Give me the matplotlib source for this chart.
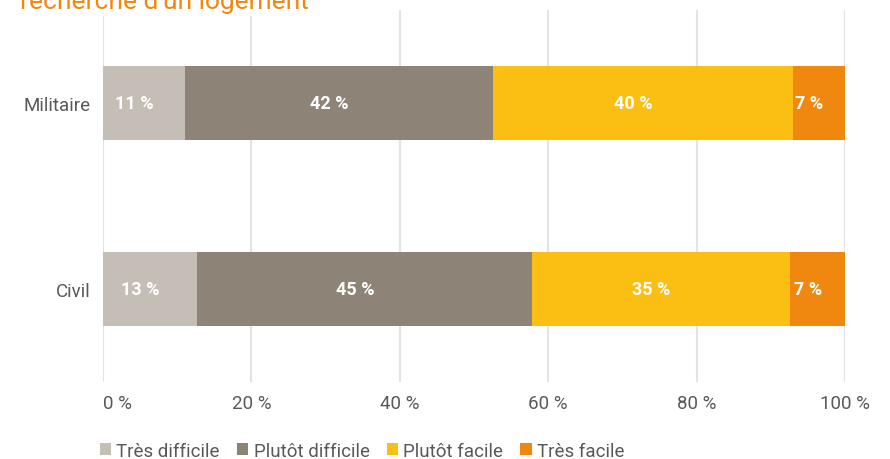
import matplotlib.pyplot as plt
from matplotlib.patches import Patch

plt.rcParams['font.family'] = ['Roboto', 'DejaVu Sans']

# Data.
groups = ['Civil', 'Militaire']
series = ['Très difficile', 'Plutôt difficile', 'Plutôt facile', 'Très facile']
colors = ['#C5BEB7', '#8D8477', '#FBBE13', '#F0880F']
tres_difficile = [12.7, 11.0]
plutot_difficile = [45.1, 41.6]
plutot_facile = [34.8, 40.4]
tres_facile = [7.4, 7.0]
values = [tres_difficile, plutot_difficile, plutot_facile, tres_facile]
x_ticks = [0, 20, 40, 60, 80, 100]

fig = plt.figure(figsize=(8.9, 4.6), dpi=100)
ax = fig.add_axes([103 / 890, 1 - 383 / 460, 742 / 890, 372 / 460])

# Stacked horizontal bars.
y_pos = list(range(len(groups)))
left = [0] * len(groups)
for name, vals, col in zip(series, values, colors):
    bars = ax.barh(y_pos, vals, left=left, height=0.4, color=col, label=name, zorder=2)
    for b, v in zip(bars, vals):
        ax.annotate(f'{round(v)} %', (b.get_x() + b.get_width() / 2, b.get_y() + b.get_height() / 2),
                    xytext=(-7, 0), textcoords='offset points', ha='center', va='center',
                    color='white', fontsize=13, fontweight='bold', zorder=3)
    left = [l + v for l, v in zip(left, vals)]

ax.set_xlim(0, 100)
ax.set_ylim(-0.5, 1.5)
ax.set_xticks(x_ticks)
ax.set_xticklabels([f'{t} %' for t in x_ticks])
ax.set_yticks(y_pos)
ax.set_yticklabels(groups)
ax.tick_params(axis='both', length=0, labelsize=13.5, labelcolor='#595959')
ax.tick_params(axis='x', pad=9)
ax.tick_params(axis='y', pad=9)
# first label sits to the right of its gridline in the original
ax.get_xticklabels()[0].set_ha('left')
ax.grid(axis='x', color='#E3E3E3', linewidth=1.5, zorder=0)
for s in ax.spines.values():
    s.set_visible(False)

# Cut-off title at the top (it is clipped in the original too).
fig.text(20 / 890, 1 - 9 / 460, "recherche d'un logement", color='#F0880F', fontsize=19,
         ha='left', va='baseline', bbox=dict(facecolor='white', edgecolor='none', pad=2), zorder=5)

# Legend below the chart.
handles = [Patch(facecolor=c, label=n) for n, c in zip(series, colors)]
leg = fig.legend(handles=handles, loc='center left', bbox_to_anchor=(92 / 890, 1 - 452 / 460),
                 ncol=4, frameon=False, fontsize=13.5, handlelength=0.6, handleheight=0.6,
                 handletextpad=0.3, columnspacing=0.9, borderaxespad=0)
for t in leg.get_texts():
    t.set_color('#595959')

plt.savefig('out.png', dpi=100)
